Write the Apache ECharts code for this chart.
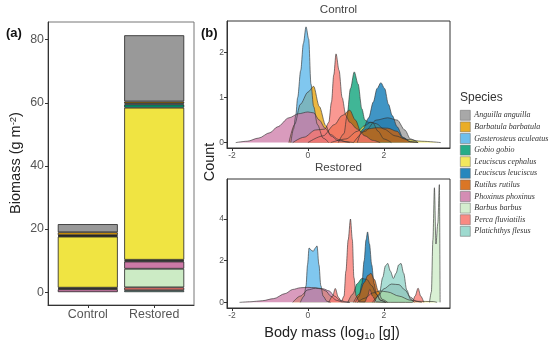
<!DOCTYPE html>
<html><head><meta charset="utf-8">
<script src="https://cdn.jsdelivr.net/npm/echarts@6/dist/echarts.min.js"></script>
<style>html,body{margin:0;padding:0;background:#fff}#c{width:550px;height:350px}</style>
</head><body><div id="c"></div>
<script>
// ---------- data ----------
const species = ['Anguilla anguilla','Barbatula barbatula','Gasterosteus aculeatus','Gobio gobio','Leuciscus cephalus','Leuciscus leuciscus','Rutilus rutilus','Phoxinus phoxinus','Barbus barbus','Perca fluviatilis','Platichthys flesus'];
const colors = ['#999999','#E69F00','#56B4E9','#009E73','#F0E442','#0072B2','#D55E00','#CC79A7','#CCEBC5','#F8766D','#8DD3C7'];
const sites = ['Control','Restored'];
const ctrlBiomass = [2.6, 0.9, 0.25, 0.2, 16.2, 0.25, 0.25, 0.9, 0, 0, 0];
const restBiomass = [21.0, 0.6, 0.35, 1.0, 48.2, 0.3, 0.25, 2.3, 5.9, 0.9, 0.6];
const biomassTicks = [0, 20, 40, 60, 80];
const massTicks = [-2, 0, 2];
const countTicksControl = [0, 1, 2];
const countTicksRestored = [0, 2, 4];

// density curves, Control  [log10 body mass, density]
const cAnguilla = [[1.2,0],[1.5,0.25],[1.8,0.5],[2.1,0.55],[2.35,0.5],[2.55,0.28],[2.7,0.08],[2.9,0]];
const cBarbatula = [[-0.5,0],[-0.35,0.4],[-0.2,0.85],[0,1.12],[0.15,1.25],[0.3,0.8],[0.47,0.38],[0.6,0.15],[0.8,0.04],[1.1,0]];
const cGasterosteus = [[-0.45,0],[-0.38,0.3],[-0.32,0.6],[-0.27,1.0],[-0.19,1.6],[-0.12,2.2],[-0.05,2.57],[0.02,2.3],[0.08,1.3],[0.15,0.8],[0.25,0.4],[0.4,0.1],[0.55,0]];
const cGobio = [[0.8,0],[0.95,0.2],[1.03,0.6],[1.12,1.2],[1.22,1.57],[1.32,1.3],[1.42,0.75],[1.5,0.5],[1.6,0.45],[1.7,0.45],[1.85,0.25],[2.0,0.08],[2.2,0]];
const cCephalus = [[0.6,0],[1.0,0.08],[1.3,0.25],[1.5,0.38],[1.65,0.45],[1.8,0.42],[2.0,0.3],[2.3,0.15],[2.6,0.07],[3.0,0.03],[3.5,0]];
const cLeuciscus = [[1.3,0],[1.45,0.3],[1.6,0.55],[1.72,0.9],[1.82,1.2],[1.92,1.33],[2.02,1.2],[2.12,0.85],[2.22,0.6],[2.35,0.35],[2.5,0.12],[2.7,0.02],[2.9,0]];
const cRutilus = [[0,0],[0.4,0.15],[0.7,0.4],[0.9,0.6],[1.1,0.72],[1.25,0.5],[1.4,0.23],[1.55,0.3],[1.8,0.33],[2.1,0.32],[2.35,0.25],[2.5,0.1],[2.7,0.02],[2.9,0]];
const cPhoxinus = [[-1.9,0],[-1.6,0.03],[-1.3,0.1],[-1.0,0.22],[-0.8,0.35],[-0.5,0.55],[-0.25,0.64],[0,0.68],[0.15,0.66],[0.3,0.5],[0.45,0.32],[0.6,0.18],[0.8,0.07],[1.0,0.02],[1.2,0]];
const cBarbus = [];
const cPerca = [[-0.4,0],[-0.1,0.12],[0.2,0.28],[0.45,0.3],[0.55,0.45],[0.62,0.9],[0.68,1.5],[0.74,1.97],[0.82,1.6],[0.9,1.0],[1.0,0.6],[1.1,0.45],[1.3,0.3],[1.5,0.15],[1.7,0.05],[1.9,0]];
const cPlatichthys = [];

// density curves, Restored
const rAnguilla = [[1.7,0],[1.85,0.3],[2.0,0.65],[2.2,0.88],[2.4,0.85],[2.55,0.6],[2.7,0.25],[2.85,0.05],[3.0,0]];
const rBarbatula = [[-0.4,0],[-0.2,0.3],[0,0.6],[0.2,0.68],[0.35,0.65],[0.47,0.55],[0.6,0.3],[0.75,0.1],[0.9,0.02],[1.1,0]];
const rGasterosteus = [[-0.2,0],[-0.1,0.3],[-0.05,0.8],[-0.01,1.8],[0.03,2.61],[0.09,2.5],[0.14,2.45],[0.19,2.6],[0.24,2.71],[0.29,1.8],[0.34,0.8],[0.4,0.3],[0.5,0.05],[0.6,0]];
const rGobio = [[1.05,0],[1.18,0.4],[1.3,0.9],[1.42,1.15],[1.55,1.1],[1.68,0.8],[1.8,0.4],[1.92,0.1],[2.05,0]];
const rCephalus = [[1.3,0],[1.5,0.2],[1.7,0.45],[1.9,0.55],[2.1,0.5],[2.4,0.3],[2.7,0.1],[2.9,0.05],[3.3,0.04],[3.4,0]];
const rLeuciscus = [[1.25,0],[1.35,0.3],[1.42,0.9],[1.48,2.0],[1.53,3.0],[1.57,3.38],[1.62,2.8],[1.68,1.8],[1.74,0.9],[1.8,0.4],[1.9,0.1],[2.05,0]];
const rRutilus = [[1.2,0],[1.35,0.4],[1.48,0.95],[1.58,1.3],[1.66,1.39],[1.75,1.1],[1.85,0.55],[1.95,0.15],[2.1,0]];
const rPhoxinus = [[-1.8,0],[-1.5,0.03],[-1.2,0.08],[-0.9,0.18],[-0.6,0.42],[-0.4,0.62],[-0.2,0.7],[0,0.72],[0.2,0.7],[0.4,0.65],[0.56,0.55],[0.7,0.3],[0.85,0.1],[1.0,0.02],[1.1,0]];
const rBarbus = [[3.2,0],[3.25,0.5],[3.29,3.0],[3.33,5.5],[3.37,2.8],[3.42,3.8],[3.46,5.65],[3.48,0]];
const rPerca = [[0.55,0],[0.65,0.3],[0.72,0.67],[0.8,0.25],[0.88,0.05],[0.95,0.3],[1.0,1.5],[1.06,3.0],[1.12,4.0],[1.17,3.0],[1.21,1.2],[1.27,0.3],[1.35,0.03],[1.5,0.02],[1.57,0.3],[1.63,0.62],[1.7,0.3],[1.8,0.03],[2.0,0],[2.75,0],[2.82,0.3],[2.9,0.68],[2.97,0.3],[3.05,0]];
const rPlatichthys = [[1.75,0],[1.88,0.4],[1.97,1.2],[2.04,1.75],[2.1,1.87],[2.17,1.5],[2.25,1.15],[2.32,1.4],[2.39,1.8],[2.45,1.87],[2.52,1.4],[2.6,0.6],[2.7,0.15],[2.8,0]];

const controlDens = [cAnguilla,cBarbatula,cGasterosteus,cGobio,cCephalus,cLeuciscus,cRutilus,cPhoxinus,cBarbus,cPerca,cPlatichthys];
const restoredDens = [rAnguilla,rBarbatula,rGasterosteus,rGobio,rCephalus,rLeuciscus,rRutilus,rPhoxinus,rBarbus,rPerca,rPlatichthys];

// ---------- chart ----------
const SANS = 'Liberation Sans';
const tickLab = {color:'#555', fontFamily:SANS};
const series = [];
for (let i = species.length - 1; i >= 0; i--) {
  const v = x => x > 0 ? x : '-';
  series.push({
    type:'bar', name:species[i], stack:'bio', xAxisIndex:3, yAxisIndex:3, barWidth:60,
    data:[v(ctrlBiomass[i]), v(restBiomass[i])],
    itemStyle:{color:colors[i], borderColor:'#222', borderWidth:0.8},
    emphasis:{disabled:true}
  });
}
[controlDens, restoredDens].forEach((set, p) => {
  set.forEach((d, i) => {
    if (!d.length) return;
    series.push({
      type:'line', name:species[i], xAxisIndex:p+1, yAxisIndex:p+1, data:d,
      smooth:0.3, smoothMonotone:'x', symbol:'none', showSymbol:false,
      lineStyle:{color:'#333', width:0.8, opacity:0.8},
      itemStyle:{color:colors[i]},
      areaStyle:{color:colors[i], opacity:0.75},
      emphasis:{disabled:true}
    });
  });
});

const densX = (idx) => ({
  type:'value', gridIndex:idx, min:-2.13, max:3.74,
  axisLine:{show:true, onZero:false, lineStyle:{color:'#333'}},
  axisTick:{show:true, length:3, customValues:massTicks, lineStyle:{color:'#333'}},
  axisLabel:Object.assign({fontSize:8.5, margin:3, customValues:massTicks}, tickLab),
  splitLine:{show:false}
});
const densY = (idx, min, max, ticks) => ({
  type:'value', gridIndex:idx, min:min, max:max,
  axisLine:{show:true, onZero:false, lineStyle:{color:'#333'}},
  axisTick:{show:true, length:3, customValues:ticks, lineStyle:{color:'#333'}},
  axisLabel:Object.assign({fontSize:8.5, margin:3, customValues:ticks}, tickLab),
  splitLine:{show:false}
});

const option = {
  animation:false,
  backgroundColor:'#fff',
  grid:[
    {left:48, top:22, width:146, height:283, show:true, borderColor:'#777', borderWidth:1},
    {left:227, top:21, width:223, height:127, show:true, borderColor:'#333', borderWidth:1},
    {left:227, top:179, width:223, height:129, show:true, borderColor:'#333', borderWidth:1},
    {left:54.6, top:22, width:132.8, height:283}
  ],
  xAxis:[
    {type:'value', gridIndex:0, min:0, max:1,
     axisLine:{show:true, onZero:false, lineStyle:{color:'#333'}},
     axisTick:{show:false}, axisLabel:{show:false}, splitLine:{show:false}},
    densX(1), densX(2),
    {type:'category', gridIndex:3, data:sites, boundaryGap:true,
     axisLine:{show:false, onZero:false},
     axisTick:{show:true, length:3, alignWithLabel:true, lineStyle:{color:'#333'}},
     axisLabel:Object.assign({fontSize:12.4, margin:4}, tickLab),
     splitLine:{show:false}}
  ],
  yAxis:[
    {type:'value', gridIndex:0, min:-4.08, max:85.6,
     axisLine:{show:true, onZero:false, lineStyle:{color:'#333'}},
     axisTick:{show:true, length:3, customValues:biomassTicks, lineStyle:{color:'#333'}},
     axisLabel:Object.assign({fontSize:12.4, margin:4, customValues:biomassTicks}, tickLab),
     splitLine:{show:false}},
    densY(1, -0.12, 2.7, countTicksControl),
    densY(2, -0.27, 5.92, countTicksRestored),
    {type:'value', gridIndex:3, min:-4.08, max:85.6, show:false, splitLine:{show:false}}
  ],
  legend:{
    orient:'vertical', left:460, top:110, itemWidth:10, itemHeight:10, itemGap:1, padding:0,
    icon:'rect', selectedMode:false,
    data:species.map((s,i)=>({name:s, itemStyle:{color:colors[i], borderColor:'#666', borderWidth:0.6, opacity:0.85}})),
    textStyle:{fontFamily:'Liberation Serif', fontStyle:'italic', fontSize:8, color:'#333', padding:[0,0,0,-1]}
  },
  series:series,
  graphic:[
    {type:'text', left:6, top:27, style:{text:'(a)', font:'bold 13px "Liberation Sans"', fill:'#111'}},
    {type:'text', left:201, top:27, style:{text:'(b)', font:'bold 13px "Liberation Sans"', fill:'#111'}},
    {type:'text', x:16, y:163, rotation:Math.PI/2,
     style:{text:'{a|Biomass (g m}{s|-2}{a|)}', align:'center', verticalAlign:'middle',
       rich:{a:{fontSize:14.5, fontFamily:SANS, fill:'#222', color:'#222'}, s:{fontSize:9.5, fontFamily:SANS, fill:'#222', color:'#222', verticalAlign:'top', padding:[0,0,6,0]}}}},
    {type:'text', x:210, y:162, rotation:Math.PI/2,
     style:{text:'Count', align:'center', verticalAlign:'middle', font:'14.5px "Liberation Sans"', fill:'#222'}},
    {type:'text', x:332, y:333,
     style:{text:'{a|Body mass (log}{s|10}{a| [g])}', align:'center', verticalAlign:'middle',
       rich:{a:{fontSize:14.5, fontFamily:SANS, fill:'#222', color:'#222'}, s:{fontSize:9.5, fontFamily:SANS, fill:'#222', color:'#222', verticalAlign:'bottom', padding:[6,0,0,0]}}}},
    {type:'text', x:338.5, y:10, style:{text:'Control', align:'center', verticalAlign:'middle', font:'11.6px "Liberation Sans"', fill:'#444'}},
    {type:'text', x:338.5, y:168, style:{text:'Restored', align:'center', verticalAlign:'middle', font:'11.6px "Liberation Sans"', fill:'#444'}},
    {type:'text', left:460, top:92, style:{text:'Species', font:'12px "Liberation Sans"', fill:'#333'}}
  ]
};
const chart = echarts.init(document.getElementById('c'), null, {renderer:'canvas'});
chart.setOption(option);
</script></body></html>
